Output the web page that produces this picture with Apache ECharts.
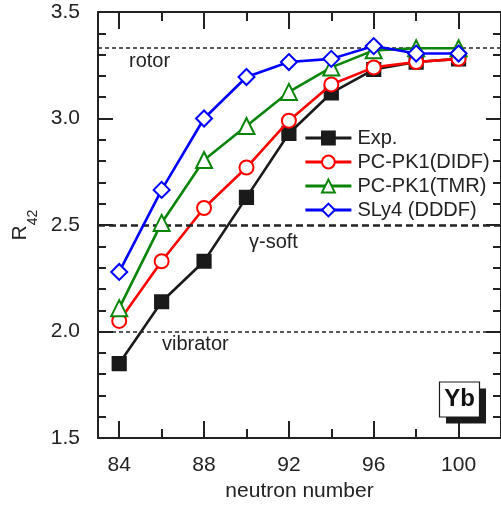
<!DOCTYPE html>
<html>
<head>
<meta charset="utf-8">
<script src="https://cdn.jsdelivr.net/npm/echarts@6/dist/echarts.min.js"></script>
<style>
html,body{margin:0;padding:0;background:#fff;}
#chart{width:501px;height:507px;}
</style>
</head>
<body>
<div id="chart"></div>
<script>
// ---- data ----
var neutrons = [84, 86, 88, 90, 92, 94, 96, 98, 100];
var expValues  = [1.85, 2.14, 2.33, 2.63, 2.93, 3.12, 3.23, 3.265, 3.28];
var didfValues = [2.05, 2.33, 2.58, 2.77, 2.99, 3.16, 3.24, 3.265, 3.28];
var tmrValues  = [2.11, 2.51, 2.805, 2.965, 3.125, 3.24, 3.32, 3.33, 3.33];
var sly4Values = [2.28, 2.665, 3.0, 3.195, 3.265, 3.28, 3.34, 3.305, 3.305];
var seriesNames = ['Exp.', 'PC-PK1(DIDF)', 'PC-PK1(TMR)', 'SLy4 (DDDF)'];
var xMajorTicks = [84, 88, 92, 96, 100];
var xMinorTicks = [86, 90, 94, 98];
var refValues = [3.333, 2.5, 2.0];
var refLabels = ['rotor', 'γ-soft', 'vibrator'];
var nucleusLabel = 'Yb';

function pairs(vals) { return neutrons.map(function (n, i) { return [n, vals[i]]; }); }

var chart = echarts.init(document.getElementById('chart'), null, {renderer: 'canvas'});
var FONT = 'Liberation Sans, Arial, sans-serif';
var AX = '#222';

function xAxisDef(pos, ticks, len, labels, line, extra) {
  var a = {
    type: 'value', position: pos, min: 83, max: 102,
    axisLine: {show: line, onZero: false, lineStyle: {color: AX, width: 2}},
    axisTick: {show: true, inside: true, length: len, customValues: ticks, lineStyle: {color: AX, width: 2}},
    axisLabel: labels ? {show: true, customValues: ticks, fontSize: 21, color: AX, fontFamily: FONT, margin: 17} : {show: false},
    splitLine: {show: false}
  };
  if (extra) for (var k in extra) a[k] = extra[k];
  return a;
}
function yAxisDef(pos, labels, extra) {
  var a = {
    type: 'value', position: pos, min: 1.5, max: 3.5, interval: 0.5,
    axisLine: {show: true, onZero: false, lineStyle: {color: AX, width: 2}},
    axisTick: {show: true, inside: true, length: 15, lineStyle: {color: AX, width: 2}},
    minorTick: {show: true, splitNumber: 5, length: 8, lineStyle: {color: AX, width: 2}},
    axisLabel: labels ? {show: true, fontSize: 21, color: AX, fontFamily: FONT, margin: 18,
      formatter: function (v) { return v.toFixed(1); }} : {show: false},
    splitLine: {show: false}
  };
  if (extra) for (var k in extra) a[k] = extra[k];
  return a;
}

var colors = ['#1a1a1a', '#ff0000', '#0a850a', '#0000ff'];
var symbols = ['rect', 'emptyCircle', 'emptyTriangle', 'emptyDiamond'];
var sizes = [13, 14, 16, 16];
var valuesList = [expValues, didfValues, tmrValues, sly4Values];

var series = valuesList.map(function (vals, i) {
  return {
    name: seriesNames[i], type: 'line', data: pairs(vals),
    xAxisIndex: 0, yAxisIndex: 0,
    symbol: symbols[i], symbolSize: sizes[i], showAllSymbol: true,
    lineStyle: {color: colors[i], width: 2.6},
    itemStyle: {color: colors[i], borderColor: colors[i], borderWidth: 2.2},
    z: 3 + i
  };
});
series.push({
  name: 'refs', type: 'line', data: [], xAxisIndex: 0, yAxisIndex: 0,
  markLine: {
    silent: true, symbol: 'none', label: {show: false},
    data: [
      {yAxis: refValues[0], lineStyle: {type: [4, 3], width: 1.6, color: AX}},
      {yAxis: refValues[1], lineStyle: {type: [7, 4], width: 2.6, color: AX}},
      {yAxis: refValues[2], lineStyle: {type: [4, 3], width: 1.6, color: AX}}
    ]
  },
  z: 2
});

chart.setOption({
  animation: false,
  backgroundColor: '#fff',
  textStyle: {fontFamily: FONT},
  grid: {left: 98, top: 12, width: 404, height: 427},
  legend: {
    orient: 'vertical', left: 299, top: 123, itemGap: 4,
    itemWidth: 46, itemHeight: 16,
    data: seriesNames,
    lineStyle: {width: 2.8},
    textStyle: {fontSize: 20, color: AX, fontFamily: FONT, padding: [0, 0, 0, 1]}
  },
  xAxis: [
    xAxisDef('bottom', xMajorTicks, 17, true, true, {
      name: 'neutron number', nameLocation: 'middle', nameGap: 41,
      nameTextStyle: {fontSize: 21, color: AX, fontFamily: FONT}
    }),
    xAxisDef('bottom', xMinorTicks, 9, false, false),
    xAxisDef('top', xMajorTicks, 17, false, true),
    xAxisDef('top', xMinorTicks, 9, false, false)
  ],
  yAxis: [
    yAxisDef('left', true, {
      name: '{r|R}{s|42}', nameLocation: 'middle', nameRotate: 90, nameGap: 61,
      nameTextStyle: {color: AX, fontFamily: FONT, rich: {
        r: {fontSize: 21, lineHeight: 21, padding: [0, 0, 9, 0], color: AX, fontFamily: FONT},
        s: {fontSize: 14, lineHeight: 14, padding: [16, 0, 0, 0], color: AX, fontFamily: FONT}
      }}
    }),
    yAxisDef('right', false)
  ],
  series: series,
  graphic: [
    {type: 'text', left: 129, top: 51, z: 10, style: {text: refLabels[0], fontSize: 20, fill: AX, fontFamily: FONT}},
    {type: 'text', left: 249, top: 232, z: 10, style: {text: refLabels[1], fontSize: 20, fill: AX, fontFamily: FONT}},
    {type: 'text', left: 162, top: 334, z: 10, style: {text: refLabels[2], fontSize: 20, fill: AX, fontFamily: FONT}},
    {type: 'rect', z: 10, shape: {x: 446, y: 388.5, width: 40, height: 35}, style: {fill: '#1a1a1a'}},
    {type: 'rect', z: 11, shape: {x: 439.5, y: 382, width: 40, height: 35}, style: {fill: '#fff', stroke: '#1a1a1a', lineWidth: 1.2}},
    {type: 'text', z: 12, x: 459.5, y: 399.5, style: {text: nucleusLabel, fontSize: 24, fontWeight: 'bold', fill: '#111', fontFamily: FONT, align: 'center', verticalAlign: 'middle'}}
  ]
});
</script>
</body>
</html>
